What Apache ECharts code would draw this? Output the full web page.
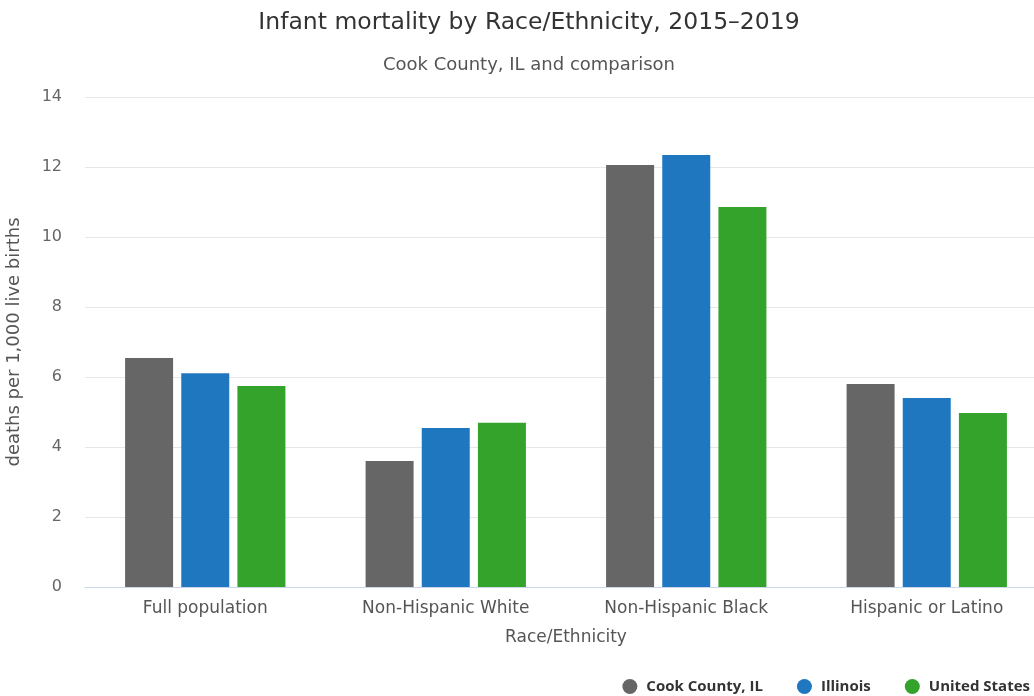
<!DOCTYPE html>
<html><head><meta charset="utf-8">
<script src="https://cdn.jsdelivr.net/npm/echarts@6/dist/echarts.min.js"></script>
<style>html,body{margin:0;padding:0;background:#fff;overflow:hidden;width:1034px;height:696px}#c{width:1050px;height:696px}</style>
</head><body><div id="c"></div>
<script>
const categories = ["Full population", "Non-Hispanic White", "Non-Hispanic Black", "Hispanic or Latino"];
const seriesNames = ["Cook County, IL", "Illinois", "United States"];
const cookCounty = [6.54, 3.6, 12.06, 5.8];
const illinois = [6.11, 4.54, 12.34, 5.4];
const unitedStates = [5.74, 4.69, 10.86, 4.97];
const yTicks = [0, 2, 4, 6, 8, 10, 12, 14];
const colors = ["#666666", "#1f78bf", "#33a32c"];

const font = "DejaVu Sans";
const chart = echarts.init(document.getElementById('c'), null, {renderer: 'canvas'});
const dataSets = [cookCounty, illinois, unitedStates];
chart.setOption({
  animation: false,
  textStyle: {fontFamily: font},
  title: [
    {text: "Infant mortality by Race/Ethnicity, 2015–2019", left: 524, top: 6, textAlign: 'center',
     textStyle: {fontFamily: font, fontSize: 23.5, fontWeight: 'normal', color: '#333'}},
    {text: "Cook County, IL and comparison", left: 524, top: 51, textAlign: 'center',
     textStyle: {fontFamily: font, fontSize: 18, fontWeight: 'normal', color: '#555'}}
  ],
  legend: {
    data: seriesNames, right: 15, bottom: -3, icon: 'circle', itemWidth: 15, itemHeight: 15, itemGap: 34,
    textStyle: {fontFamily: "Open Sans", fontSize: 15, fontWeight: 'bold', color: '#333', padding: [0, 0, 0, 4]}
  },
  grid: {left: 85, top: 97, width: 962, height: 490, containLabel: false, outerBoundsMode: 'none'},
  xAxis: {
    type: 'category', data: categories,
    name: "Race/Ethnicity", nameLocation: 'middle', nameGap: 42,
    nameTextStyle: {fontFamily: font, fontSize: 17, color: '#555'},
    axisLine: {lineStyle: {color: '#ccd6eb'}}, axisTick: {show: false},
    axisLabel: {fontFamily: font, fontSize: 17, color: '#555', margin: 13}
  },
  yAxis: {
    type: 'value', min: yTicks[0], max: yTicks[yTicks.length - 1], interval: 2,
    name: "deaths per 1,000 live births", nameLocation: 'middle', nameGap: 62,
    nameTextStyle: {fontFamily: font, fontSize: 18, color: '#555'},
    axisLine: {show: false}, axisTick: {show: false},
    axisLabel: {fontFamily: font, fontSize: 16, color: '#666', margin: 23},
    splitLine: {lineStyle: {color: '#e6e6e6'}}
  },
  series: seriesNames.map((n, i) => ({
    name: n, type: 'bar', data: dataSets[i], barWidth: 48, barGap: '17%', barCategoryGap: '33%',
    itemStyle: {color: colors[i]}
  }))
});
</script></body></html>
